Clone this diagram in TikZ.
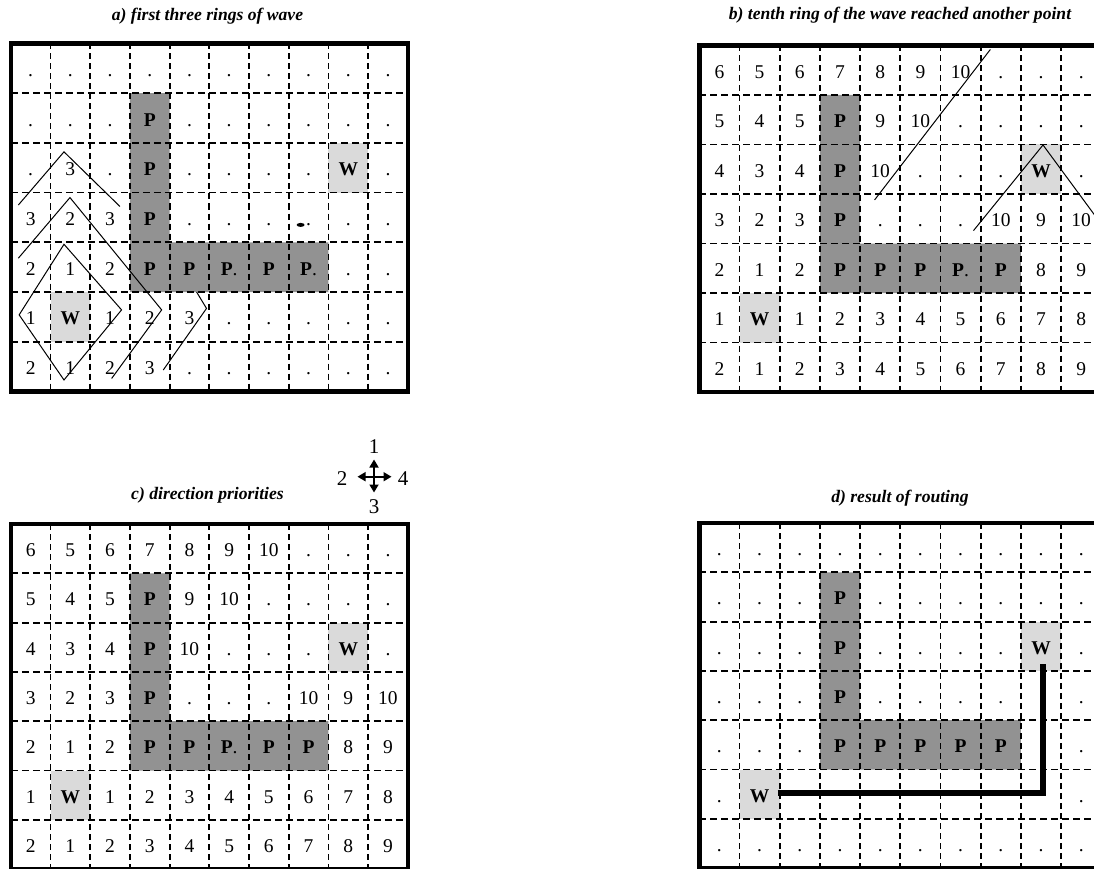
\documentclass[tikz,border=0pt]{standalone}
\usepackage{fontspec}
\setmainfont{Liberation Serif}
\usetikzlibrary{arrows.meta}
\definecolor{pgray}{HTML}{929292}
\definecolor{wgray}{HTML}{DADADA}
\tikzset{
  frame/.style={line width=4.5pt},
  hgrid/.style={line width=1.8pt, dash pattern=on 7pt off 4pt},
  vgrid/.style={line width=1.8pt, dash pattern=on 6pt off 4pt},
  pfill/.style={fill=pgray},
  wfill/.style={fill=wgray},
  celltext/.style={anchor=base, inner sep=0pt, font=\fontsize{19.5}{19.5}\selectfont},
  titletext/.style={anchor=base, inner sep=0pt, font=\fontsize{17.6}{17.6}\selectfont\bfseries\itshape},
  ringline/.style={line width=1pt},
  route/.style={line width=5.8pt},
  comparrow/.style={line width=1.7pt, -{Triangle[length=8pt,width=9pt]}},
  complabel/.style={inner sep=0pt, font=\fontsize{21}{21}\selectfont}
}
\newcommand\bP{\textbf{P}}
\newcommand\bW{\textbf{W}}
% #1 name, #2 x0, #3 y0, #4 cell width, #5 cell height, #6 rows
\newcommand\drawpanel[6]{%
  \begin{scope}[shift={(#2,#3)}, x=#4pt, y=-#5pt]
    \fill[pfill] (3,1) -- (4,1) -- (4,4) -- (8,4) -- (8,5) -- (3,5) -- cycle;
    \foreach \i in {1,...,9} \draw[vgrid] (\i,0) -- (\i,7);
    \foreach \j in {1,...,6} \draw[hgrid] (0,\j) -- (10,\j);
    \draw[frame] (0,0) rectangle (10,7);
    \foreach \rowdata [count=\r] in {#6} {
      \foreach \t [count=\c] in \rowdata {
        \node[celltext] (#1-\r-\c) at (\c-0.5, \r-0.34) {\t};
      }
    }
  \end{scope}}
\newcommand\wcells[5]{%
  \begin{scope}[shift={(#1,#2)}, x=#3pt, y=-#4pt]
    \foreach \c/\r in {#5} \fill[wfill] (\c-1,\r-1) rectangle (\c,\r);
  \end{scope}}

\begin{document}
\begin{tikzpicture}[x=1pt, y=-1pt]
\useasboundingbox (0,0) rectangle (1094,869);
\clip (0,0) rectangle (1094,869);
\fill[white] (0,0) rectangle (1094,869);

% titles
\node[titletext] (ta) at (207.5,21) {a) first three rings of wave};
\node[titletext] (tb) at (900,20) {b) tenth ring of the wave reached another point};
\node[titletext] (tc) at (207.5,499) {c) direction priorities};
\node[titletext] (td) at (900,502) {d) result of routing};

% W cells (light shading)
\wcells{10.8}{43.5}{39.7}{49.7}{2/6,9/3}
\wcells{699.3}{45.5}{40.2}{49.5}{2/6,9/3}
\wcells{10.8}{524}{39.7}{49.3}{2/6,9/3}
\wcells{699.3}{523}{40.2}{49.3}{2/6,9/3}

% panel a
\drawpanel{a}{10.8}{43.5}{39.7}{49.7}{
 {.,.,.,.,.,.,.,.,.,.},
 {.,.,.,\bP,.,.,.,.,.,.},
 {.,3,.,\bP,.,.,.,.,\bW,.},
 {3,2,3,\bP,.,.,.,.,.,.},
 {2,1,2,\bP,\bP,\bP.,\bP,\bP.,.,.},
 {1,\bW,1,2,3,.,.,.,.,.},
 {2,1,2,3,.,.,.,.,.,.}}
\begin{scope}[shift={(10.8,43.5)}, x=39.7pt, y=-49.7pt]
  % ring 1
  \draw[ringline] (1.34,4.04) -- (2.79,5.36) -- (1.34,6.77) -- (0.21,5.46) -- cycle;
  % ring 2
  \draw[ringline] (0.19,4.32) -- (1.49,3.1) -- (3.8,5.36) -- (2.54,6.74);
  % ring 3
  \draw[ringline] (0.19,3.25) -- (1.34,2.18) -- (2.75,3.28);
  \draw[ringline] (4.68,5.0) -- (4.93,5.33) -- (3.84,6.57);
  \fill (7.3,3.65) ellipse (0.1 and 0.04);
\end{scope}

% panel b
\drawpanel{b}{699.3}{45.5}{40.2}{49.5}{
 {6,5,6,7,8,9,10,.,.,.},
 {5,4,5,\bP,9,10,.,.,.,.},
 {4,3,4,\bP,10,.,.,.,\bW,.},
 {3,2,3,\bP,.,.,.,10,9,10},
 {2,1,2,\bP,\bP,\bP,\bP.,\bP,8,9},
 {1,\bW,1,2,3,4,5,6,7,8},
 {2,1,2,3,4,5,6,7,8,9}}
\begin{scope}[shift={(699.3,45.5)}, x=40.2pt, y=-49.5pt]
  \coordinate (b10a) at (7.24,0.08);
  \coordinate (b10b) at (4.36,3.12);
  \draw[ringline] (b10a) -- (b10b);
  \coordinate (bwl) at (6.82,3.74);
  \coordinate (bwt) at (8.55,2.01);
  \coordinate (bwr) at (10.4,4.05);
  \draw[ringline] (bwl) -- (bwt) -- (bwr);
\end{scope}

% panel c
\drawpanel{c}{10.8}{524}{39.7}{49.3}{
 {6,5,6,7,8,9,10,.,.,.},
 {5,4,5,\bP,9,10,.,.,.,.},
 {4,3,4,\bP,10,.,.,.,\bW,.},
 {3,2,3,\bP,.,.,.,10,9,10},
 {2,1,2,\bP,\bP,\bP.,\bP,\bP,8,9},
 {1,\bW,1,2,3,4,5,6,7,8},
 {2,1,2,3,4,5,6,7,8,9}}

% compass
\coordinate (cc) at (374,476.7);
\coordinate (cu) at (374,459.5);
\coordinate (cd) at (374,492.5);
\coordinate (cl) at (357.5,476.7);
\coordinate (cr) at (391.5,476.7);
\draw[comparrow] (cc) -- (cu);
\draw[comparrow] (cc) -- (cd);
\draw[comparrow] (cc) -- (cl);
\draw[comparrow] (cc) -- (cr);
\node[complabel] (c1) at (374,446.7) {1};
\node[complabel] (c2) at (342,479) {2};
\node[complabel] (c4) at (403,479) {4};
\node[complabel] (c3) at (374,507) {3};

% panel d
\drawpanel{d}{699.3}{523}{40.2}{49.3}{
 {.,.,.,.,.,.,.,.,.,.},
 {.,.,.,\bP,.,.,.,.,.,.},
 {.,.,.,\bP,.,.,.,.,\bW,.},
 {.,.,.,\bP,.,.,.,.,,.},
 {.,.,.,\bP,\bP,\bP,\bP,\bP,,.},
 {.,\bW,,,,,,,,.},
 {.,.,.,.,.,.,.,.,.,.}}
\begin{scope}[shift={(699.3,523)}, x=40.2pt, y=-49.3pt]
  \coordinate (rs) at (1.95,5.47);
  \coordinate (rc) at (8.55,5.47);
  \coordinate (re) at (8.55,2.87);
  \draw[route] (rs) -- (rc) -- (re);
\end{scope}
\end{tikzpicture}
\end{document}
